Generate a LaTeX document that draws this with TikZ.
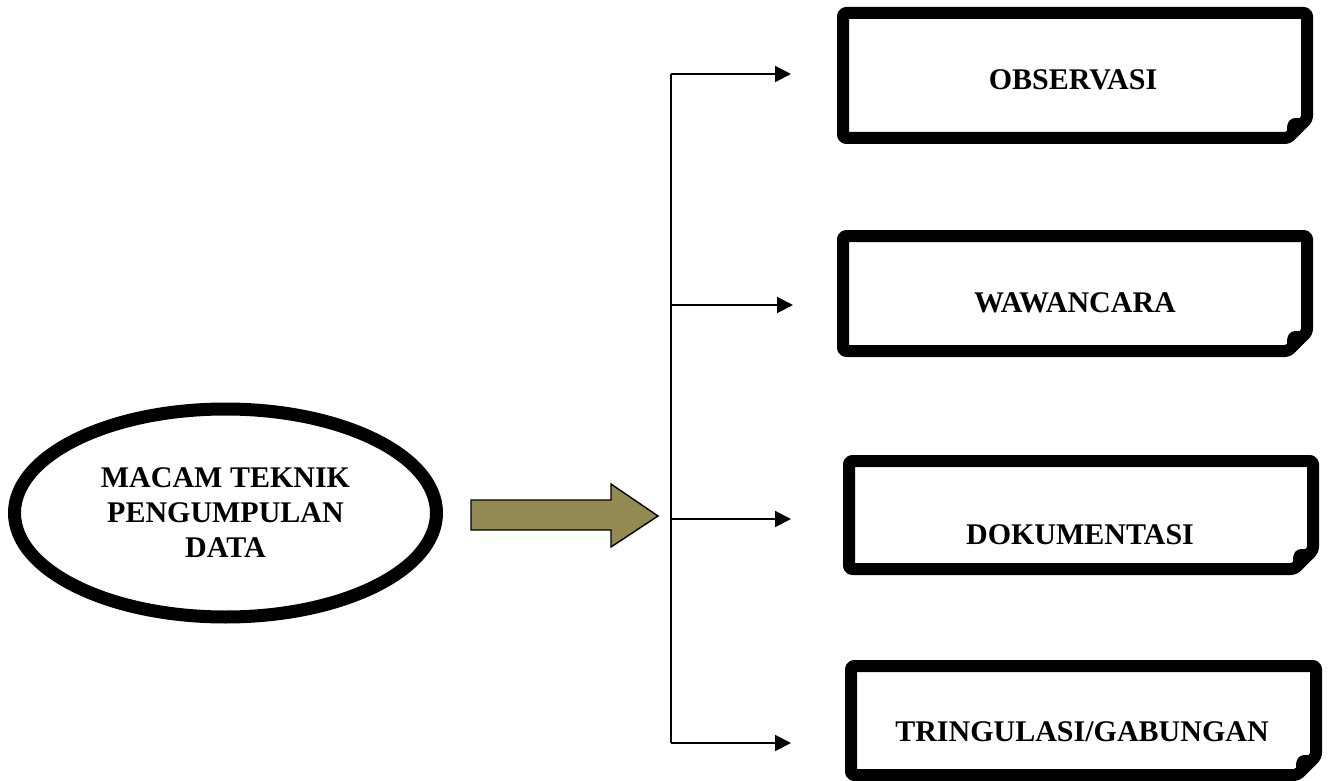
\documentclass[tikz,border=0pt]{standalone}
\usepackage{fontspec}
\setmainfont{Liberation Serif}
\usetikzlibrary{arrows.meta,shapes.geometric}

\definecolor{arrowfill}{HTML}{948A54}

% frame with a folded bottom right corner
\newcommand{\foldframe}[4]{%
  \draw[frame] (#1,#2) -- (#3,#2) -- (#3,#4-19) -- (#3-19,#4) -- (#1,#4) -- cycle;
  \fill (#3,#4-19) -- (#3-10,#4-20) .. controls (#3-18,#4-20) and (#3-20,#4-16) .. (#3-20,#4-8) -- (#3-19,#4) -- cycle;}

\begin{document}
\begin{tikzpicture}[x=0.5pt,y=-0.5pt]

\useasboundingbox (0,0) rectangle (1329,781);

%%% Styles

\tikzstyle{frame}=[line width=6pt, line join=round, rounded corners=1.5pt]
\tikzstyle{label}=[font=\bfseries\fontsize{15}{17.5}\selectfont, align=center]
\tikzstyle{link}=[-{Triangle[length=8pt,width=8pt]}, line width=1pt]


% Left ellipse

\node (M) [label, ellipse, draw, line width=6.5pt, minimum width=211pt, minimum height=104pt]
  at (225.5,513) {MACAM TEKNIK\\PENGUMPULAN\\DATA};


% Block arrow

\draw [fill=arrowfill, line width=0.7pt]
(471,500) -- (611,500) -- (611,484) -- (658,516) -- (611,547) -- (611,530) -- (471,530) -- cycle;


%%% Trunk

\coordinate (T1) at (670.5,74);
\coordinate (T2) at (670.5,305);
\coordinate (T3) at (670.5,519);
\coordinate (T4) at (670.5,743);

\draw [line width=1pt] (T1) -- (T4);


%%% Boxes

\foldframe{843}{13}{1307}{138}
\node (A) [label] at (1073,80) {OBSERVASI};

\foldframe{843}{236}{1307}{351}
\node (B) [label] at (1075,303) {WAWANCARA};

\foldframe{849}{461}{1313}{569}
\node (C) [label] at (1080,535) {DOKUMENTASI};

\foldframe{851}{666}{1316}{775}
\node (D) [label] at (1082,732) {TRINGULASI/GABUNGAN};


% Arrow ends

\coordinate (E1) at (791,74);
\coordinate (E2) at (793,305);
\coordinate (E3) at (791,519);
\coordinate (E4) at (791,743);

\draw [link] (T1) -- (E1);
\draw [link] (T2) -- (E2);
\draw [link] (T3) -- (E3);
\draw [link] (T4) -- (E4);

\end{tikzpicture}
\end{document}
